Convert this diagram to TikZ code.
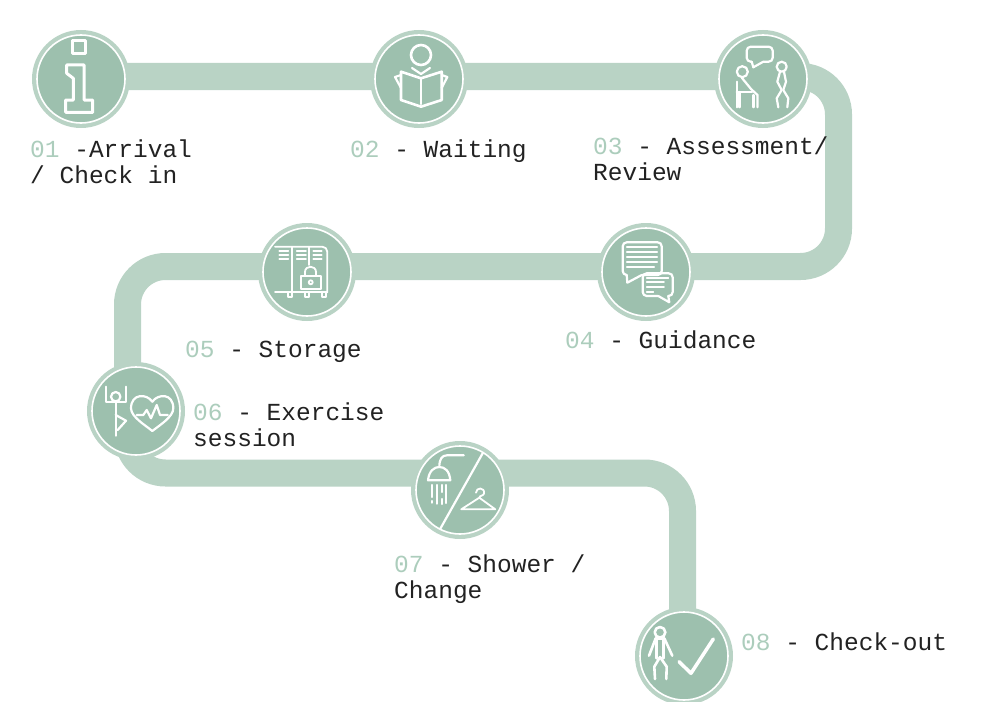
\documentclass[tikz,border=0pt]{standalone}
\usepackage{fontspec}
\setmonofont{Liberation Mono}
\definecolor{trackgreen}{HTML}{B9D3C5}
\definecolor{stationgreen}{HTML}{9DC0AE}
\definecolor{numbergreen}{HTML}{ACCDBC}
\definecolor{labelink}{HTML}{222222}
\tikzset{
  station/.style={circle,fill=trackgreen,minimum size=98pt,inner sep=0pt,outer sep=0pt},
  icon/.style={draw=white,line width=2.2pt,line join=round,line cap=round},
  steplabel/.style={anchor=base west,align=left,inner sep=0pt,text=labelink,font=\ttfamily\fontsize{24.5}{26}\selectfont},
}
\newcommand{\stepno}[1]{\textcolor{numbergreen}{#1}}
\begin{document}
\begin{tikzpicture}[x=1pt,y=-1pt]
    \clip (0,0) rectangle (1006,701);

    % Puntos de la banda
    \coordinate (trackstart) at (81,76.5);
    \coordinate (bendA) at (838.5,76.5);
    \coordinate (bendB) at (838.5,266.5);
    \coordinate (bendC) at (127.5,266.5);
    \coordinate (bendD) at (127.5,473);
    \coordinate (bendE) at (682.5,473);
    \coordinate (trackend) at (682.5,656);

    % Banda
    \draw[trackgreen,line width=27pt,rounded corners=38pt] (trackstart) -- (bendA) -- (bendB) -- (bendC) -- (bendD) -- (bendE) -- (trackend);

    % Estaciones
    \foreach \name/\x/\y in {st1/81/79,st2/419/79,st3/763/79,st4/646/272,st5/307/272,st6/136/411,st7/460/490,st8/684/656} {
        \node[station] (\name) at (\x,\y) {};
        \filldraw[fill=stationgreen,draw=white,line width=1.6pt] (\name.center) circle (44);
    }

    % 01 informacion
    \begin{scope}[shift={(st1.center)},icon/.append style={line width=3pt}]
        \draw[icon] (-8.7,-38.3) rectangle (4.7,-25.7);
        \draw[icon] (-14.3,-14) -- (3,-14) -- (3,21) -- (11.7,21) -- (11.7,33.3) -- (-15.3,33.3) -- (-15.3,21) -- (-7.7,21) -- (-7.7,-0.7) -- (-14.3,-5.7) -- cycle;
    \end{scope}

    % 02 lector
    \begin{scope}[shift={(st2.center)}]
        \draw[icon,line width=2.6pt] (2,-24) circle (10);
        \draw[icon,line width=2.6pt] (-18,-7.3) -- (2,-0.7) -- (22.7,-7.3) -- (22.7,21) -- (2,27.7) -- (-18,21) -- cycle;
        \draw[icon] (2,-0.7) -- (2,25);
        \draw[icon] (-18,-4) -- (-24,-2) -- (-18,9);
        \draw[icon] (22.7,-4) -- (28.3,-2) -- (22.7,9);
        \draw[icon] (-7,-11) -- (2,-5) -- (11,-11);
    \end{scope}

    % 03 conversacion
    \begin{scope}[shift={(st3.center)},yshift=1pt]
        \draw[icon,rounded corners=4pt] (-11.3,-16.3) -- (-16.3,-16.3) -- (-16.3,-31.3) -- (9.7,-31.3) -- (9.7,-16.3) -- (0.3,-16.3);
        \draw[icon] (-11.3,-16.3) -- (-9.7,-10.7) -- (0.3,-16.3);
        \draw[icon] (-20.7,-6.3) circle (5.5);
        \draw[icon] (-26.3,3.7) -- (-26.3,29.3);
        \draw[icon] (-26.3,14) -- (-11,14);
        \draw[icon] (-23.5,14) -- (-23.5,29.3);
        \draw[icon] (-21,0) -- (-12,11) -- (-5.5,17) -- (-5.5,29.3);
        \draw[icon] (-9.5,17) -- (-9.5,29.3);
        \draw[icon] (18.7,-11.3) circle (5);
        \draw[icon] (17,-6.3) -- (14.3,3.7) -- (18.7,12) -- (13.7,20.3) -- (15.3,29.3);
        \draw[icon] (21,-6.3) -- (23,3.7) -- (20.3,12) -- (25.3,20.3) -- (24.3,29.3);
    \end{scope}

    % 04 mensajes
    \begin{scope}[shift={(st4.center)}]
        \draw[icon,rounded corners=4pt] (-19.3,3) -- (-23.3,3) -- (-23.3,-29.7) -- (15.7,-29.7) -- (15.7,3) -- (-4.3,3);
        \draw[icon] (-19.3,3) -- (-18.7,10.7) -- (-4.3,3);
        \foreach \y/\xend in {-25.3/11,-20.3/11,-14.7/11,-9.7/11,-4.7/8} {
            \draw[icon] (-19,\y) -- (\xend,\y);
        }
        \draw[icon,rounded corners=4pt] (12.3,24) -- (-3.3,24) -- (-3.3,1.3) -- (26.7,1.3) -- (26.7,24) -- (22.3,24);
        \draw[icon] (12.3,24) -- (23.3,30.3) -- (22.3,24);
        \foreach \y/\xend in {5.7/22.3,10.3/18,15/18,20/7.3} {
            \draw[icon,line width=1.8pt] (0.7,\y) -- (\xend,\y);
        }
    \end{scope}

    % 05 taquillas
    \begin{scope}[shift={(st5.center)},icon/.append style={line width=1.8pt}]
        \draw[icon,rounded corners=5pt] (-32,-25.3) -- (20.3,-25.3) -- (20.3,20.3);
        \draw[icon] (-32,20.3) -- (20.3,20.3);
        \draw[icon] (-14.7,-25.3) -- (-14.7,20.3);
        \draw[icon] (2.3,-25.3) -- (2.3,-7);
        \foreach \y in {-21.3,-17,-12.7} {
            \draw[icon] (-27.7,\y) -- (-18.7,\y);
            \draw[icon] (-10.3,\y) -- (-1,\y);
            \draw[icon] (6.3,\y) -- (14.7,\y);
        }
        \filldraw[icon,fill=stationgreen] (-6.3,3.7) rectangle (13.7,17);
        \draw[icon] (-2,3.7) -- (-2,0) .. controls (-2,-7) and (9,-7) .. (9,0) -- (9,3.7);
        \draw[icon] (3.7,10.3) circle (2);
        \foreach \x in {-17,0.3,17} {
            \draw[icon] (\x-2,20.3) rectangle (\x+2,25);
        }
    \end{scope}

    % 06 ejercicio
    \begin{scope}[shift={(st6.center)}]
        \draw[icon] (-20.3,-14.3) circle (4.7);
        \draw[icon] (-30.3,-24.3) -- (-30.3,-9.3) -- (-10.3,-9.3) -- (-10.3,-24.3);
        \draw[icon] (-20.3,-9.3) -- (-20.3,24.7);
        \draw[icon] (-20.3,4) -- (-10,9.7) -- (-18.3,19);
        \draw[icon] (16.3,-9.3) .. controls (10.7,-17.7) and (-5,-17.7) .. (-5,-2.7) .. controls (-5,5.7) and (9,14) .. (16.3,20) .. controls (24,14) and (37.3,5.7) .. (37.3,-2.7) .. controls (37.3,-17.7) and (22.3,-17.7) .. (16.3,-9.3) -- cycle;
        \draw[icon] (0.7,4) -- (7.3,4) -- (10.7,-1) -- (15,7.3) -- (20.7,-6) -- (24,4) -- (31.7,4);
    \end{scope}

    % 07 ducha y percha
    \begin{scope}[shift={(st7.center)}]
        \draw[icon] (23,-37.3) -- (-19.7,38.7);
        \draw[icon] (3.7,-34.7) -- (-13,-34.7) .. controls (-18,-34.7) and (-20.7,-31) .. (-20.7,-23);
        \draw[icon] (-32,-9.7) .. controls (-31,-19) and (-26,-23) .. (-20.7,-23) .. controls (-15,-23) and (-10.5,-19) .. (-9.7,-9.7) -- cycle;
        \draw[icon] (-28,-5) -- (-28,7);
        \draw[icon] (-28,11) -- (-28,12.7);
        \draw[icon] (-23,-5) -- (-23,13.7);
        \draw[icon] (-18,-5) -- (-18,2);
        \draw[icon] (-18,9) -- (-18,14);
        \draw[icon] (-13.7,-5) -- (-13.7,13);
        \draw[icon,line width=1.8pt] (16,2.7) .. controls (16,-3) and (25,-3) .. (24,3.5) .. controls (23.5,6) and (19.3,5.5) .. (19.3,7.7) -- (1.3,19.3) -- (35.3,19.3) -- (19.3,7.7);
    \end{scope}

    % 08 salida
    \begin{scope}[shift={(st8.center)},icon/.append style={line width=2.6pt}]
        \draw[icon] (-24,-23.7) circle (5.3);
        \draw[icon] (-28.3,-17.7) -- (-19.7,-17.7);
        \draw[icon] (-28.3,-17.7) -- (-35,-0.3);
        \draw[icon] (-19.7,-17.7) -- (-11.7,-0.3);
        \draw[icon] (-24,1) -- (-29.7,10.7) -- (-29,23);
        \draw[icon] (-24,1) -- (-17.3,10.7) -- (-17.7,23);
        \draw[icon] (-27.3,-17.7) -- (-27.3,2.3);
        \draw[icon] (-20.7,-17.7) -- (-20.7,2.3);
        \draw[icon,line width=3.5pt] (-5,5.7) -- (7,17.3) -- (29.3,-17);
    \end{scope}

    % Etiquetas
    \node[steplabel] (lab1) at (30,183) {\stepno{01} -Arrival\\/ Check in};
    \node[steplabel] (lab2) at (350,157) {\stepno{02} - Waiting};
    \node[steplabel] (lab3) at (593,180) {\stepno{03} - Assessment/\\Review};
    \node[steplabel] (lab4) at (565,348) {\stepno{04} - Guidance};
    \node[steplabel] (lab5) at (185,357) {\stepno{05} - Storage};
    \node[steplabel] (lab6) at (193,446) {\stepno{06} - Exercise\\session};
    \node[steplabel] (lab7) at (394,598) {\stepno{07} - Shower /\\Change};
    \node[steplabel] (lab8) at (741,650) {\stepno{08} - Check-out};
\end{tikzpicture}
\end{document}
